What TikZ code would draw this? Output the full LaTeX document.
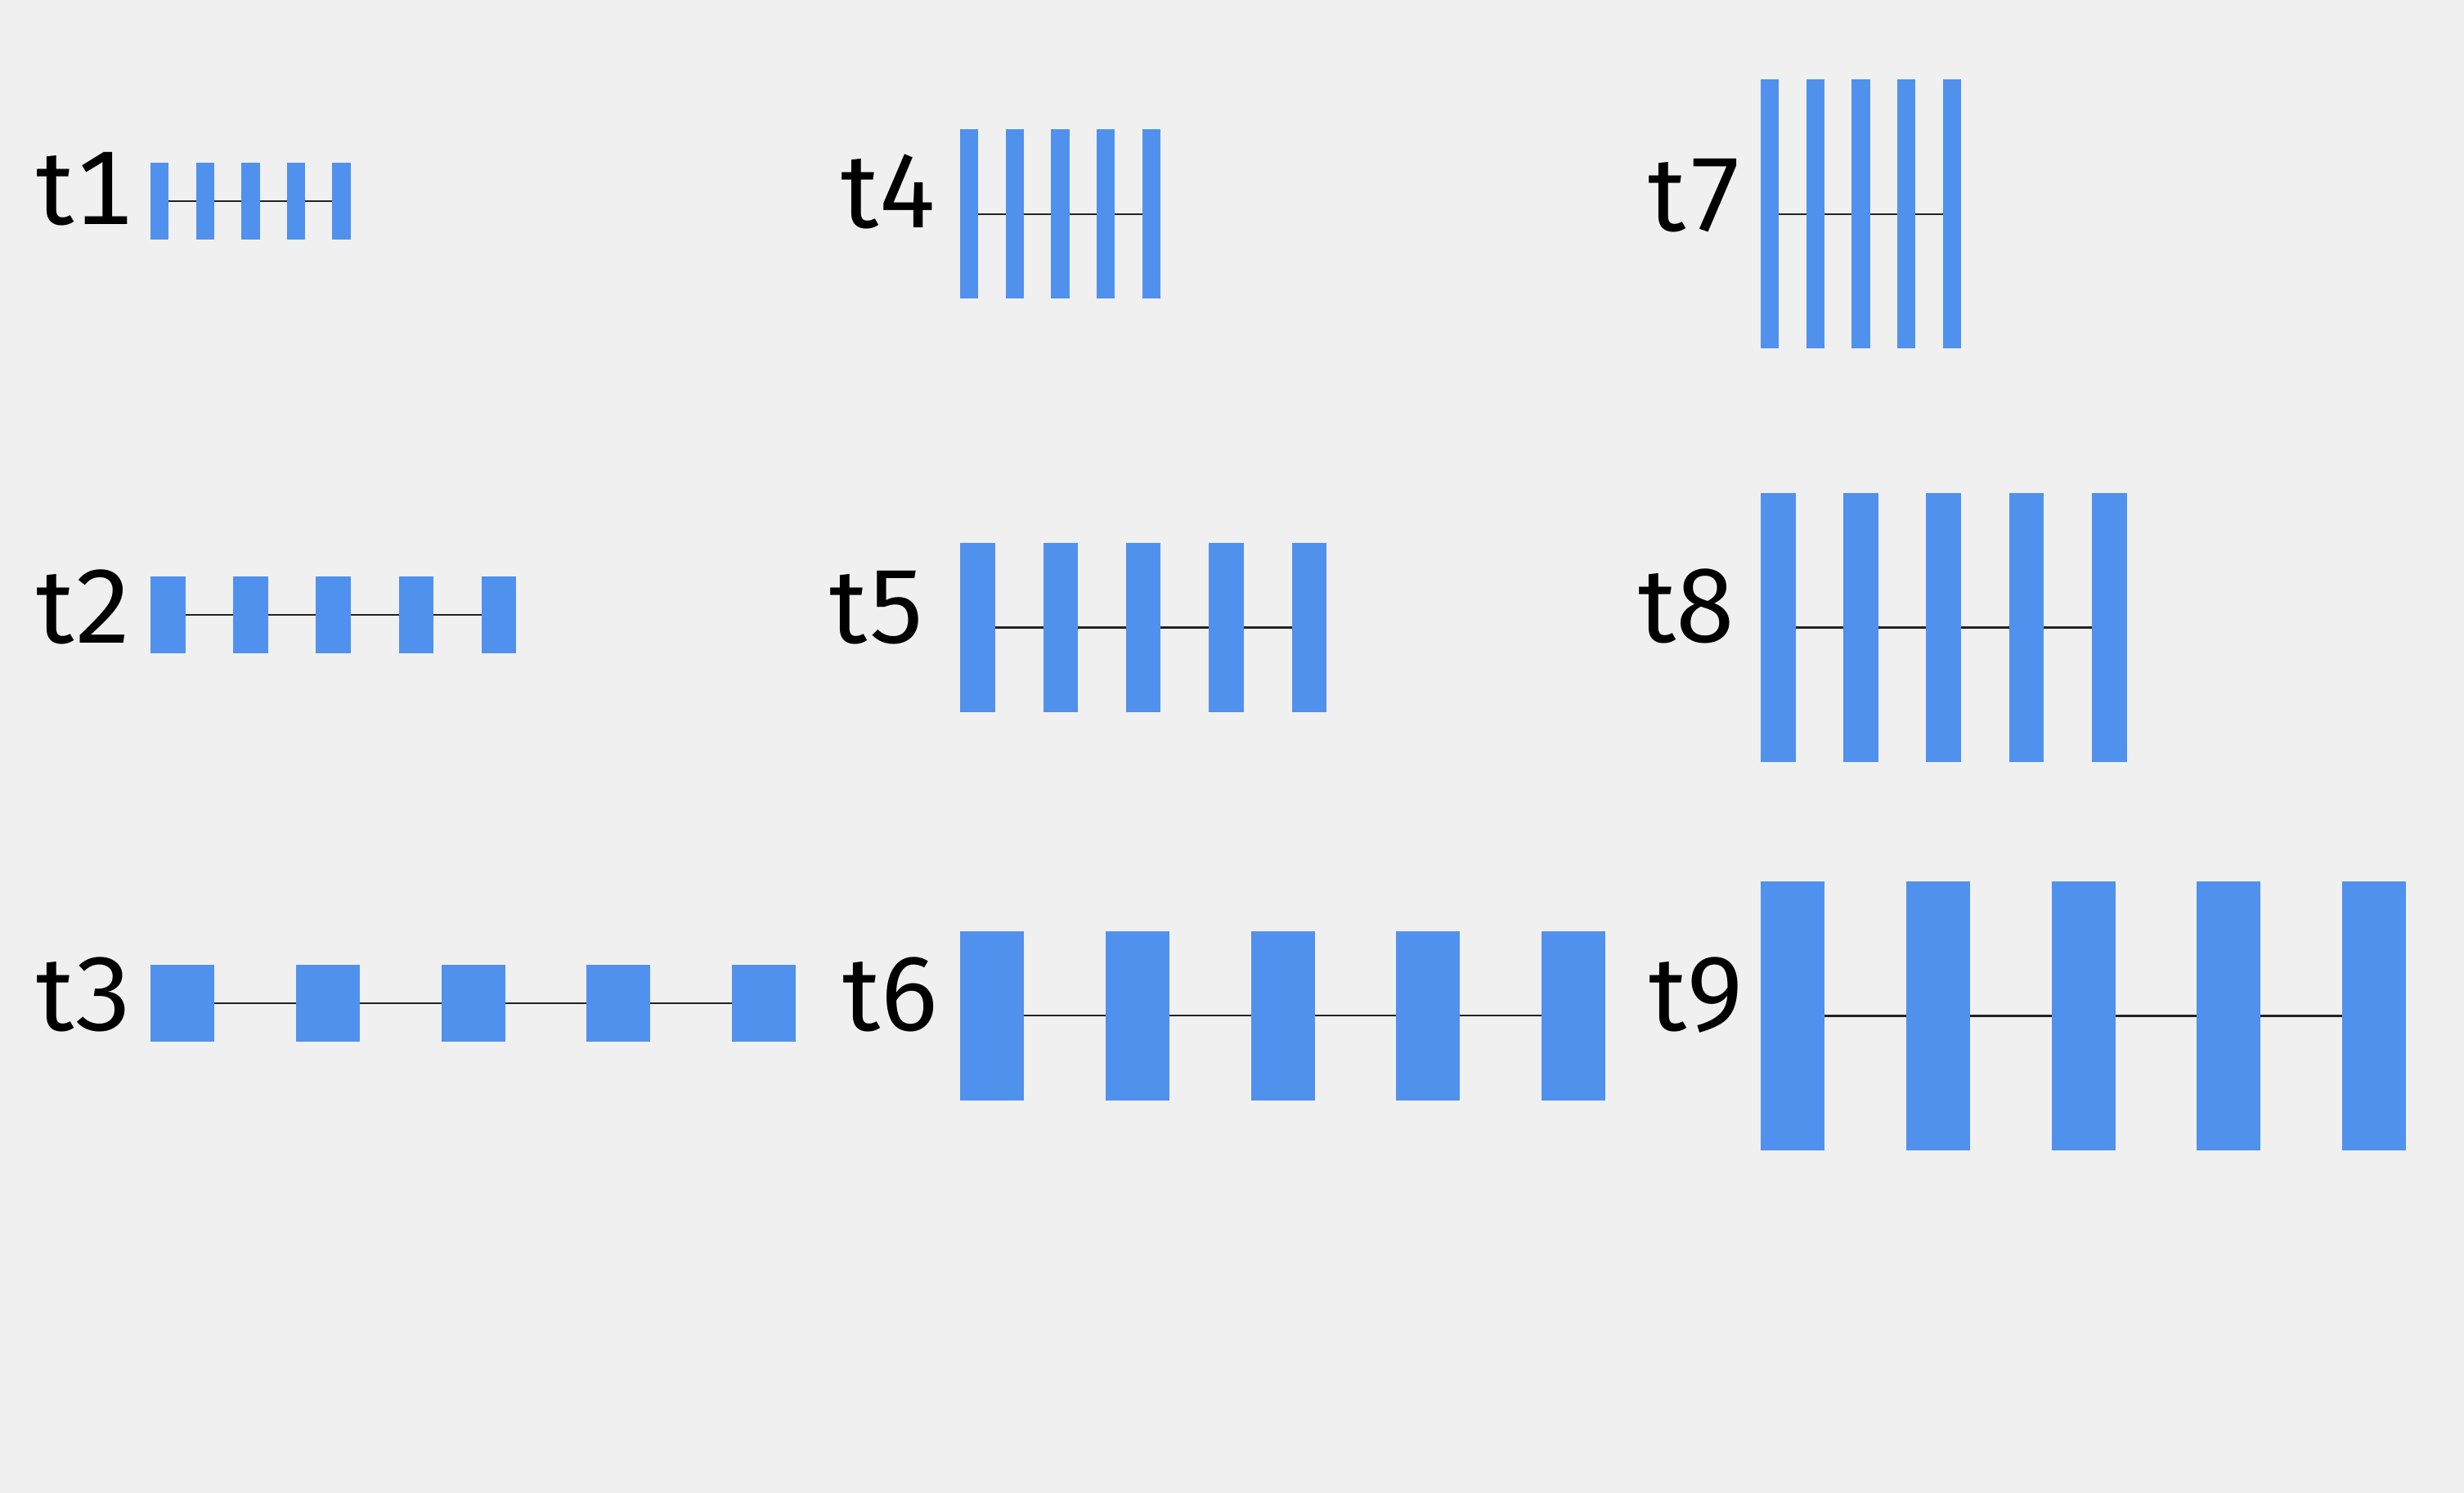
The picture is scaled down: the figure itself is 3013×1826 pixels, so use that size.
\documentclass[tikz,border=0pt]{standalone}
\usepackage{fontspec}
\setmainfont{Fira Sans}[Numbers=Monospaced]
\definecolor{bgc}{RGB}{240,240,240}
\definecolor{gblue}{RGB}{81,145,238}
\definecolor{lnc}{RGB}{34,34,34}
\tikzset{
  bar/.style={rectangle, fill=gblue, draw=none, inner sep=0pt, outer sep=0pt},
  link/.style={draw=lnc, line width=0.6pt},
  lbl/.style={inner sep=0pt, outer sep=0pt, anchor=base west, font=\fontsize{32}{38}\selectfont}
}
% #1 name, #2 left x, #3 centre y, #4 bar width, #5 bar height, #6 pitch
\newcommand\gtrack[6]{%
  \foreach \i in {1,...,5}{%
    \node[bar, minimum width={#4*0.25pt}, minimum height={#5*0.25pt}]
      (#1-\i) at ({#2+#4/2+(\i-1)*#6}, #3) {};
  }%
  \foreach \i/\j in {1/2,2/3,3/4,4/5}{%
    \draw[link] (#1-\i.east) -- (#1-\j.west);
  }%
}
\begin{document}
\begin{tikzpicture}[x=0.25pt, y=-0.25pt]
\fill[bgc] (0,0) rectangle (3013,1826);
\useasboundingbox (0,0) rectangle (3013,1826);
% column 1
\gtrack{g1}{184}{246.3}{22.3}{94}{55.6}
\gtrack{g2}{184}{752}{42.6}{94.3}{101.2}
\gtrack{g3}{184}{1227.2}{78}{94.3}{177.8}
% column 2
\gtrack{g4}{1174}{261.8}{22.3}{207}{55.67}
\gtrack{g5}{1174.3}{767.7}{42.4}{206.7}{101.3}
\gtrack{g6}{1174}{1242.3}{78}{206.7}{177.8}
% column 3
\gtrack{g7}{2153}{261.8}{22.3}{329}{55.67}
\gtrack{g8}{2153}{767.7}{42.7}{328.7}{101.2}
\gtrack{g9}{2153}{1242.5}{78}{329}{177.8}
% labels
\node[lbl] (l1) at (44,275) {t1};
\node[lbl] (l2) at (44,787) {t2};
\node[lbl] (l3) at (44,1261) {t3};
\node[lbl] (l4) at (1028,279) {t4};
\node[lbl] (l5) at (1014,787) {t5};
\node[lbl] (l6) at (1030,1261) {t6};
\node[lbl] (l7) at (2015,283) {t7};
\node[lbl] (l8) at (2003,786) {t8};
\node[lbl] (l9) at (2016,1261) {t9};
\end{tikzpicture}
\end{document}
